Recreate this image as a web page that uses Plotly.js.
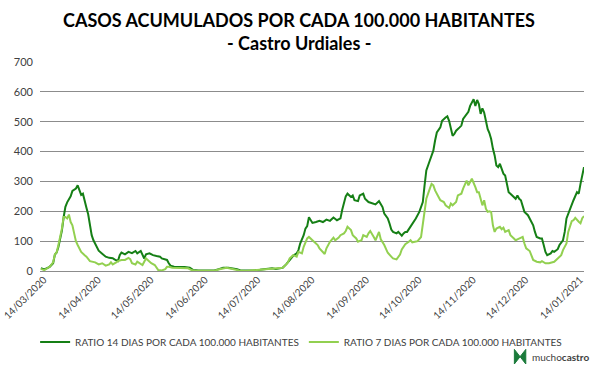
<!DOCTYPE html>
<html>
<head>
<meta charset="utf-8">
<script src="https://cdn.plot.ly/plotly-3.0.1.min.js"></script>
<style>html,body{margin:0;padding:0;background:#fff;}#chart{width:600px;height:375px;}</style>
</head>
<body>
<div id="chart"></div>
<script>
// Ratio 14 días por cada 100.000 habitantes
const dates14 = ['2020-03-14','2020-03-16','2020-03-19','2020-03-21','2020-03-22','2020-03-23','2020-03-24','2020-03-25','2020-03-26','2020-03-27','2020-03-28','2020-03-29','2020-03-30','2020-03-31','2020-04-01','2020-04-02','2020-04-03','2020-04-04','2020-04-05','2020-04-06','2020-04-07','2020-04-08','2020-04-09','2020-04-10','2020-04-11','2020-04-12','2020-04-13','2020-04-14','2020-04-15','2020-04-16','2020-04-18','2020-04-19','2020-04-20','2020-04-22','2020-04-24','2020-04-25','2020-04-27','2020-04-28','2020-04-29','2020-05-01','2020-05-03','2020-05-05','2020-05-07','2020-05-08','2020-05-10','2020-05-12','2020-05-13','2020-05-15','2020-05-17','2020-05-19','2020-05-21','2020-05-22','2020-05-24','2020-05-25','2020-05-26','2020-05-27','2020-05-29','2020-06-01','2020-06-04','2020-06-07','2020-06-09','2020-06-12','2020-06-17','2020-06-21','2020-06-24','2020-06-26','2020-06-29','2020-07-02','2020-07-04','2020-07-06','2020-07-09','2020-07-13','2020-07-17','2020-07-21','2020-07-24','2020-07-26','2020-07-28','2020-07-30','2020-08-01','2020-08-03','2020-08-05','2020-08-07','2020-08-08','2020-08-09','2020-08-11','2020-08-12','2020-08-13','2020-08-14','2020-08-15','2020-08-16','2020-08-18','2020-08-20','2020-08-22','2020-08-24','2020-08-26','2020-08-28','2020-08-30','2020-09-01','2020-09-02','2020-09-03','2020-09-04','2020-09-05','2020-09-07','2020-09-08','2020-09-09','2020-09-11','2020-09-12','2020-09-14','2020-09-15','2020-09-17','2020-09-19','2020-09-21','2020-09-23','2020-09-24','2020-09-25','2020-09-26','2020-09-28','2020-09-29','2020-09-30','2020-10-01','2020-10-03','2020-10-04','2020-10-05','2020-10-06','2020-10-07','2020-10-08','2020-10-09','2020-10-11','2020-10-12','2020-10-14','2020-10-16','2020-10-18','2020-10-19','2020-10-20','2020-10-22','2020-10-24','2020-10-25','2020-10-26','2020-10-28','2020-10-29','2020-10-31','2020-11-01','2020-11-02','2020-11-03','2020-11-04','2020-11-05','2020-11-06','2020-11-08','2020-11-09','2020-11-10','2020-11-12','2020-11-13','2020-11-14','2020-11-15','2020-11-16','2020-11-17','2020-11-18','2020-11-19','2020-11-20','2020-11-21','2020-11-22','2020-11-23','2020-11-24','2020-11-25','2020-11-26','2020-11-27','2020-11-28','2020-11-29','2020-11-30','2020-12-01','2020-12-03','2020-12-04','2020-12-05','2020-12-06','2020-12-07','2020-12-09','2020-12-10','2020-12-11','2020-12-12','2020-12-13','2020-12-14','2020-12-15','2020-12-17','2020-12-18','2020-12-20','2020-12-21','2020-12-22','2020-12-24','2020-12-25','2020-12-26','2020-12-27','2020-12-28','2020-12-30','2020-12-31','2021-01-01','2021-01-03','2021-01-04','2021-01-06','2021-01-07','2021-01-08','2021-01-10','2021-01-11','2021-01-12','2021-01-14','2021-01-15','2021-01-16','2021-01-17','2021-01-18'];
const ratio14 = [9,5,14,26,55,62,80,105,135,180,215,230,240,250,268,272,276,287,268,255,259,231,212,190,150,120,103,92,78,68,58,53,48,44,43,39,33,53,62,56,64,60,67,59,67,42,56,59,53,50,48,42,37,37,26,18,14,14,13,11,3,2,1,2,7,11,11,9,6,2,1,2,4,7,9,7,9,11,22,37,51,59,70,92,120,142,150,180,168,161,164,168,164,172,168,179,170,176,205,226,250,259,248,253,237,234,253,259,242,231,228,223,234,223,214,192,176,159,139,131,126,131,125,118,126,131,131,148,159,176,198,231,287,337,370,403,437,464,481,503,514,518,503,481,453,459,470,481,487,509,526,533,553,564,575,553,573,559,526,545,531,503,476,462,442,410,387,353,348,359,326,320,287,264,259,248,242,253,242,237,220,198,187,176,153,131,114,109,109,87,64,53,59,67,64,73,87,103,131,176,209,226,237,264,259,292,320,348];

// Ratio 7 días por cada 100.000 habitantes
const dates7 = ['2020-03-14','2020-03-16','2020-03-19','2020-03-21','2020-03-22','2020-03-23','2020-03-24','2020-03-25','2020-03-26','2020-03-27','2020-03-28','2020-03-29','2020-03-30','2020-03-31','2020-04-01','2020-04-02','2020-04-03','2020-04-04','2020-04-05','2020-04-06','2020-04-08','2020-04-09','2020-04-11','2020-04-13','2020-04-14','2020-04-16','2020-04-18','2020-04-20','2020-04-22','2020-04-23','2020-04-24','2020-04-26','2020-04-27','2020-04-29','2020-05-01','2020-05-03','2020-05-04','2020-05-05','2020-05-07','2020-05-08','2020-05-10','2020-05-11','2020-05-13','2020-05-14','2020-05-15','2020-05-16','2020-05-18','2020-05-19','2020-05-20','2020-05-22','2020-05-24','2020-05-25','2020-05-26','2020-05-28','2020-05-31','2020-06-03','2020-06-06','2020-06-08','2020-06-10','2020-06-15','2020-06-21','2020-06-24','2020-06-26','2020-06-28','2020-07-02','2020-07-05','2020-07-09','2020-07-13','2020-07-17','2020-07-21','2020-07-25','2020-07-28','2020-07-30','2020-08-01','2020-08-02','2020-08-03','2020-08-05','2020-08-07','2020-08-08','2020-08-10','2020-08-11','2020-08-13','2020-08-14','2020-08-16','2020-08-17','2020-08-19','2020-08-20','2020-08-22','2020-08-23','2020-08-24','2020-08-25','2020-08-26','2020-08-28','2020-08-29','2020-08-31','2020-09-01','2020-09-03','2020-09-04','2020-09-05','2020-09-07','2020-09-08','2020-09-10','2020-09-11','2020-09-13','2020-09-14','2020-09-16','2020-09-17','2020-09-18','2020-09-20','2020-09-21','2020-09-23','2020-09-24','2020-09-26','2020-09-27','2020-09-28','2020-09-30','2020-10-01','2020-10-03','2020-10-04','2020-10-05','2020-10-06','2020-10-07','2020-10-08','2020-10-10','2020-10-11','2020-10-12','2020-10-14','2020-10-15','2020-10-17','2020-10-18','2020-10-19','2020-10-20','2020-10-22','2020-10-23','2020-10-24','2020-10-25','2020-10-27','2020-10-28','2020-10-30','2020-10-31','2020-11-02','2020-11-03','2020-11-04','2020-11-06','2020-11-07','2020-11-09','2020-11-10','2020-11-11','2020-11-12','2020-11-13','2020-11-14','2020-11-15','2020-11-17','2020-11-18','2020-11-19','2020-11-20','2020-11-21','2020-11-22','2020-11-23','2020-11-24','2020-11-25','2020-11-26','2020-11-27','2020-11-28','2020-11-29','2020-12-01','2020-12-02','2020-12-03','2020-12-04','2020-12-06','2020-12-07','2020-12-09','2020-12-10','2020-12-11','2020-12-13','2020-12-14','2020-12-15','2020-12-16','2020-12-18','2020-12-19','2020-12-20','2020-12-22','2020-12-24','2020-12-25','2020-12-27','2020-12-29','2020-12-30','2021-01-01','2021-01-03','2021-01-05','2021-01-06','2021-01-08','2021-01-09','2021-01-10','2021-01-11','2021-01-12','2021-01-13','2021-01-15','2021-01-16','2021-01-17','2021-01-18'];
const ratio7 = [7,3,14,29,56,62,87,114,142,181,181,176,189,164,153,126,100,87,73,64,53,48,33,29,29,22,26,18,22,29,22,29,33,37,37,44,40,26,22,31,22,20,42,37,29,26,20,11,3,2,6,14,14,11,11,9,9,3,1,1,1,6,9,11,6,2,0,2,3,6,6,9,11,22,29,42,53,48,64,59,81,109,114,103,98,87,76,61,57,76,87,98,112,103,112,120,126,134,148,137,120,109,98,103,120,114,126,134,114,103,131,106,87,76,61,48,42,39,48,55,72,82,90,98,103,96,98,100,114,153,209,242,276,292,287,270,248,237,231,220,211,226,220,231,253,259,276,287,303,287,300,309,281,264,264,242,220,237,209,198,200,198,153,131,142,148,140,145,131,137,120,109,103,106,111,114,92,76,67,53,37,31,29,33,26,26,28,31,42,53,70,92,131,153,167,170,178,165,160,177,184];

const seriesNames = ['RATIO 14 DIAS POR CADA 100.000 HABITANTES','RATIO 7 DIAS POR CADA 100.000 HABITANTES'];
const tickDates = ['2020-03-14','2020-04-14','2020-05-14','2020-06-14','2020-07-14','2020-08-14','2020-09-14','2020-10-14','2020-11-14','2020-12-14','2021-01-14'];
const tickLabels = ['14/03/2020','14/04/2020','14/05/2020','14/06/2020','14/07/2020','14/08/2020','14/09/2020','14/10/2020','14/11/2020','14/12/2020','14/01/2021'];
const yTicks = [0,100,200,300,400,500,600,700];
const titleLines = ['CASOS ACUMULADOS POR CADA 100.000 HABITANTES', '- Castro Urdiales -'];

const FONT = 'Lato, "Open Sans", sans-serif';

const traces = [
  {x: dates14, y: ratio14, name: seriesNames[0], type: 'scatter', mode: 'lines',
   line: {color: '#157f15', width: 2}},
  {x: dates7, y: ratio7, name: seriesNames[1], type: 'scatter', mode: 'lines',
   line: {color: '#92d050', width: 2}}
];

const layout = {
  width: 600, height: 375,
  margin: {l: 40, r: 16, t: 62, b: 104},
  paper_bgcolor: '#ffffff', plot_bgcolor: '#ffffff',
  font: {family: FONT, color: '#404040', size: 11},
  xaxis: {
    type: 'date',
    range: ['2020-03-13 12:00', '2021-01-18'],
    tickmode: 'array', tickvals: tickDates, ticktext: tickLabels,
    tickangle: -45,
    tickfont: {family: FONT, size: 10, color: '#404040'},
    ticklabeloverflow: 'allow',
    ticklabelshift: 3,
    automargin: false,
    showgrid: false, zeroline: false,
    showline: false, ticks: '',
    fixedrange: true
  },
  yaxis: {
    range: [0, 700],
    tickmode: 'array', tickvals: yTicks,
    tickfont: {family: FONT, size: 11, color: '#404040'},
    showgrid: true, gridcolor: '#8c8c8c', gridwidth: 1,
    zeroline: true, zerolinecolor: '#8c8c8c', zerolinewidth: 1,
    showline: false, ticks: '', ticklabelstandoff: 6,
    automargin: false,
    fixedrange: true
  },
  showlegend: true,
  legend: {
    orientation: 'h', x: 0.48, xanchor: 'center',
    y: -0.34, yanchor: 'middle',
    font: {family: FONT, size: 10, color: '#404040'},
    traceorder: 'normal', bgcolor: 'rgba(0,0,0,0)'
  },
  annotations: [
    {xref: 'paper', yref: 'paper', x: 0.476, y: 1.201, xanchor: 'center', yanchor: 'middle',
     text: '<b>' + titleLines[0] + '</b>', showarrow: false,
     font: {family: FONT, size: 18, color: '#000000'}},
    {xref: 'paper', yref: 'paper', x: 0.476, y: 1.092, xanchor: 'center', yanchor: 'middle',
     text: '<b>' + titleLines[1] + '</b>', showarrow: false,
     font: {family: FONT, size: 18, color: '#000000'}},
    {xref: 'paper', yref: 'paper', x: 1.012, y: -0.41, xanchor: 'right', yanchor: 'middle',
     text: 'mucho<b>castro</b>', showarrow: false,
     font: {family: FONT, size: 10, color: '#404040'}}
  ],
  shapes: [
    {type: 'path', xref: 'paper', yref: 'paper',
     path: 'M 0.872,-0.375 L 0.893,-0.445 L 0.893,-0.375 L 0.872,-0.445 Z',
     fillcolor: '#1a7a3a', line: {color: '#1a7a3a', width: 1}}
  ]
};

Plotly.newPlot('chart', traces, layout, {displayModeBar: false, staticPlot: true});
</script>
</body>
</html>
